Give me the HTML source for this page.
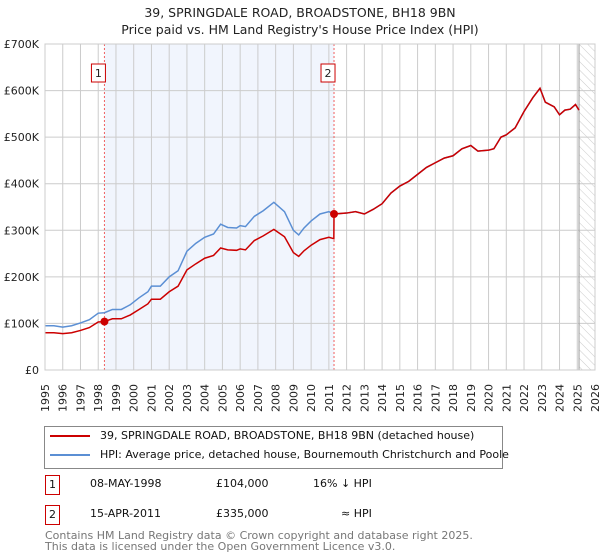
<!DOCTYPE html>
<html><head><meta charset="utf-8"><style>
body{margin:0;width:600px;height:560px;background:#fff;font-family:"DejaVu Sans","Liberation Sans",sans-serif;position:relative;overflow:hidden}
.t{position:absolute;white-space:nowrap}
svg text{font-family:"DejaVu Sans","Liberation Sans",sans-serif}
</style></head><body>
<div class="t" style="left:0;width:600px;text-align:center;top:4px;font-size:12.5px;line-height:17px;color:#222">39, SPRINGDALE ROAD, BROADSTONE, BH18 9BN<br>Price paid vs. HM Land Registry's House Price Index (HPI)</div>
<svg id="chart" width="600" height="420" style="position:absolute;left:0;top:0">
<defs><pattern id="hatch" width="6" height="6" patternUnits="userSpaceOnUse" patternTransform="rotate(-45)"><line x1="0" y1="0" x2="0" y2="6" stroke="#ccc" stroke-width="1"/></pattern></defs>
<g id="g"></g>
</svg>
<div style="position:absolute;left:44px;top:426px;width:457px;height:41px;border:1px solid #888;font-size:11px;color:#111">
<div class="t" style="left:5px;top:2px"><span style="display:inline-block;width:40px;height:2px;background:#cc0000;vertical-align:middle;margin-right:10px"></span>39, SPRINGDALE ROAD, BROADSTONE, BH18 9BN (detached house)</div>
<div class="t" style="left:5px;top:21px"><span style="display:inline-block;width:40px;height:2px;background:#5b8fd4;vertical-align:middle;margin-right:10px"></span>HPI: Average price, detached house, Bournemouth Christchurch and Poole</div>
</div>
<div style="font-size:11px;color:#111">
<div class="t" style="left:45px;top:475px;width:13px;height:18px;border:1px solid #cc0000;text-align:center;line-height:18px">1</div>
<div class="t" style="left:90px;top:477px">08-MAY-1998</div>
<div class="t" style="left:216px;top:477px">£104,000</div>
<div class="t" style="left:313px;top:477px">16% ↓ HPI</div>
</div>
<div style="font-size:11px;color:#111">
<div class="t" style="left:45px;top:505px;width:13px;height:18px;border:1px solid #cc0000;text-align:center;line-height:18px">2</div>
<div class="t" style="left:90px;top:507px">15-APR-2011</div>
<div class="t" style="left:216px;top:507px">£335,000</div>
<div class="t" style="left:341px;top:507px">≈ HPI</div>
</div>
<div class="t" style="left:45px;top:531px;font-size:11px;line-height:10.5px;color:#777">Contains HM Land Registry data © Crown copyright and database right 2025.<br>This data is licensed under the Open Government Licence v3.0.</div>
<script>
const yearTicks=[1995,1996,1997,1998,1999,2000,2001,2002,2003,2004,2005,2006,2007,2008,2009,2010,2011,2012,2013,2014,2015,2016,2017,2018,2019,2020,2021,2022,2023,2024,2025,2026];
const valueTicks=[0,100,200,300,400,500,600,700];
const valueLabels=["£0","£100K","£200K","£300K","£400K","£500K","£600K","£700K"];
const hpiT=[1995,1995.5,1996,1996.5,1997,1997.5,1998,1998.35,1998.8,1999.3,1999.8,2000.3,2000.8,2001,2001.5,2002,2002.5,2003,2003.5,2004,2004.5,2004.9,2005.3,2005.8,2006,2006.3,2006.8,2007.3,2007.9,2008.5,2009,2009.3,2009.6,2010,2010.5,2011,2011.3,2012,2012.5,2013,2013.5,2014,2014.5,2015,2015.5,2016,2016.5,2017,2017.5,2018,2018.5,2019,2019.4,2020,2020.3,2020.7,2021,2021.5,2022,2022.5,2022.9,2023.2,2023.7,2024,2024.3,2024.6,2024.9,2025.1];
const hpiV=[95,95,92,95,101,108,122,123,130,130,140,155,168,180,180,200,213,255,272,285,292,313,306,305,310,308,330,342,360,340,300,290,305,320,335,340,335,337,340,335,345,357,380,395,405,420,435,445,455,460,475,482,470,472,475,500,505,520,555,585,605,575,565,548,558,560,570,558];
const priceT=[1995,1995.5,1996,1996.5,1997,1997.5,1998,1998.35,1998.8,1999.3,1999.8,2000.3,2000.8,2001,2001.5,2002,2002.5,2003,2003.5,2004,2004.5,2004.9,2005.3,2005.8,2006,2006.3,2006.8,2007.3,2007.9,2008.5,2009,2009.3,2009.6,2010,2010.5,2011,2011.28,2011.29,2012,2012.5,2013,2013.5,2014,2014.5,2015,2015.5,2016,2016.5,2017,2017.5,2018,2018.5,2019,2019.4,2020,2020.3,2020.7,2021,2021.5,2022,2022.5,2022.9,2023.2,2023.7,2024,2024.3,2024.6,2024.9,2025.1];
const priceV=[80,80,78,80,85,91,103,104,110,110,118,130,142,152,152,168,180,215,228,240,246,262,258,257,260,258,278,288,302,286,252,244,256,268,280,285,282,335,337,340,335,345,357,380,395,405,420,435,445,455,460,475,482,470,472,475,500,505,520,555,585,605,575,565,548,558,560,570,558];
const saleT=[1998.35,2011.29];
const saleV=[104,335];
const saleLabels=["1","2"];
const X0=45,X1=595,Y0=370,Y1=44;
const x=t=>X0+(t-1995)/(2026-1995)*(X1-X0);
const y=v=>Y0-v/700*(Y0-Y1);
const ns="http://www.w3.org/2000/svg",g=document.getElementById('g');
function mk(tag,at){const e=document.createElementNS(ns,tag);for(const k in at)e.setAttribute(k,at[k]);g.appendChild(e);return e;}
let e=mk('rect',{x:x(saleT[0]),y:Y1,width:x(saleT[1])-x(saleT[0]),height:Y0-Y1,fill:'#eef2fc',opacity:0.8});


e=mk('rect',{x:x(2025.1),y:Y1,width:X1-x(2025.1),height:Y0-Y1,fill:'url(#hatch)'});


yearTicks.forEach(t=>{
 e=mk('line',{x1:x(t),x2:x(t),y1:Y1,y2:Y0,stroke:'#ccc','stroke-width':1});
 
 
 e=mk('text',{x:0,y:0,transform:`translate(${x(t)+4},${Y0+28}) rotate(-90)`,'font-size':11,fill:'#222','text-anchor':'middle'});
 e.textContent=t;
 
 
});
valueTicks.forEach((v,i)=>{
 e=mk('line',{x1:X0,x2:X1,y1:y(v),y2:y(v),stroke:'#ccc','stroke-width':1});
 
 
 e=mk('text',{x:X0-6,y:y(v)+4,'font-size':11,fill:'#222','text-anchor':'end'});
 e.textContent=valueLabels[i];
 
 
});
e=mk('line',{x1:x(2025.1),x2:x(2025.1),y1:Y1,y2:Y0,stroke:'#999','stroke-width':1});


saleT.forEach((t,i)=>{
 e=mk('line',{x1:x(t),x2:x(t),y1:Y1,y2:Y0,stroke:'#f06060','stroke-width':1,'stroke-dasharray':'2,2'});
 
 
});
e=mk('polyline',{points:hpiT.map((t,i)=>x(t)+','+y(hpiV[i])).join(' '),fill:'none',stroke:'#5b8fd4','stroke-width':1.5});


e=mk('polyline',{points:priceT.map((t,i)=>x(t)+','+y(priceV[i])).join(' '),fill:'none',stroke:'#cc0000','stroke-width':1.5});


saleT.forEach((t,i)=>{
 e=mk('circle',{cx:x(t),cy:y(saleV[i]),r:4,fill:'#cc0000'});
 
 
 e=mk('rect',{x:x(t)-13,y:64,width:14,height:18,fill:'#fff',stroke:'#cc0000','stroke-width':1});
 
 
 e=mk('text',{x:x(t)-6,y:77,'font-size':11,fill:'#222','text-anchor':'middle'});
 e.textContent=saleLabels[i];
 
 
});
e=mk('rect',{x:X0,y:Y1,width:X1-X0,height:Y0-Y1,fill:'none',stroke:'#ccc'});


</script>
</body></html>
